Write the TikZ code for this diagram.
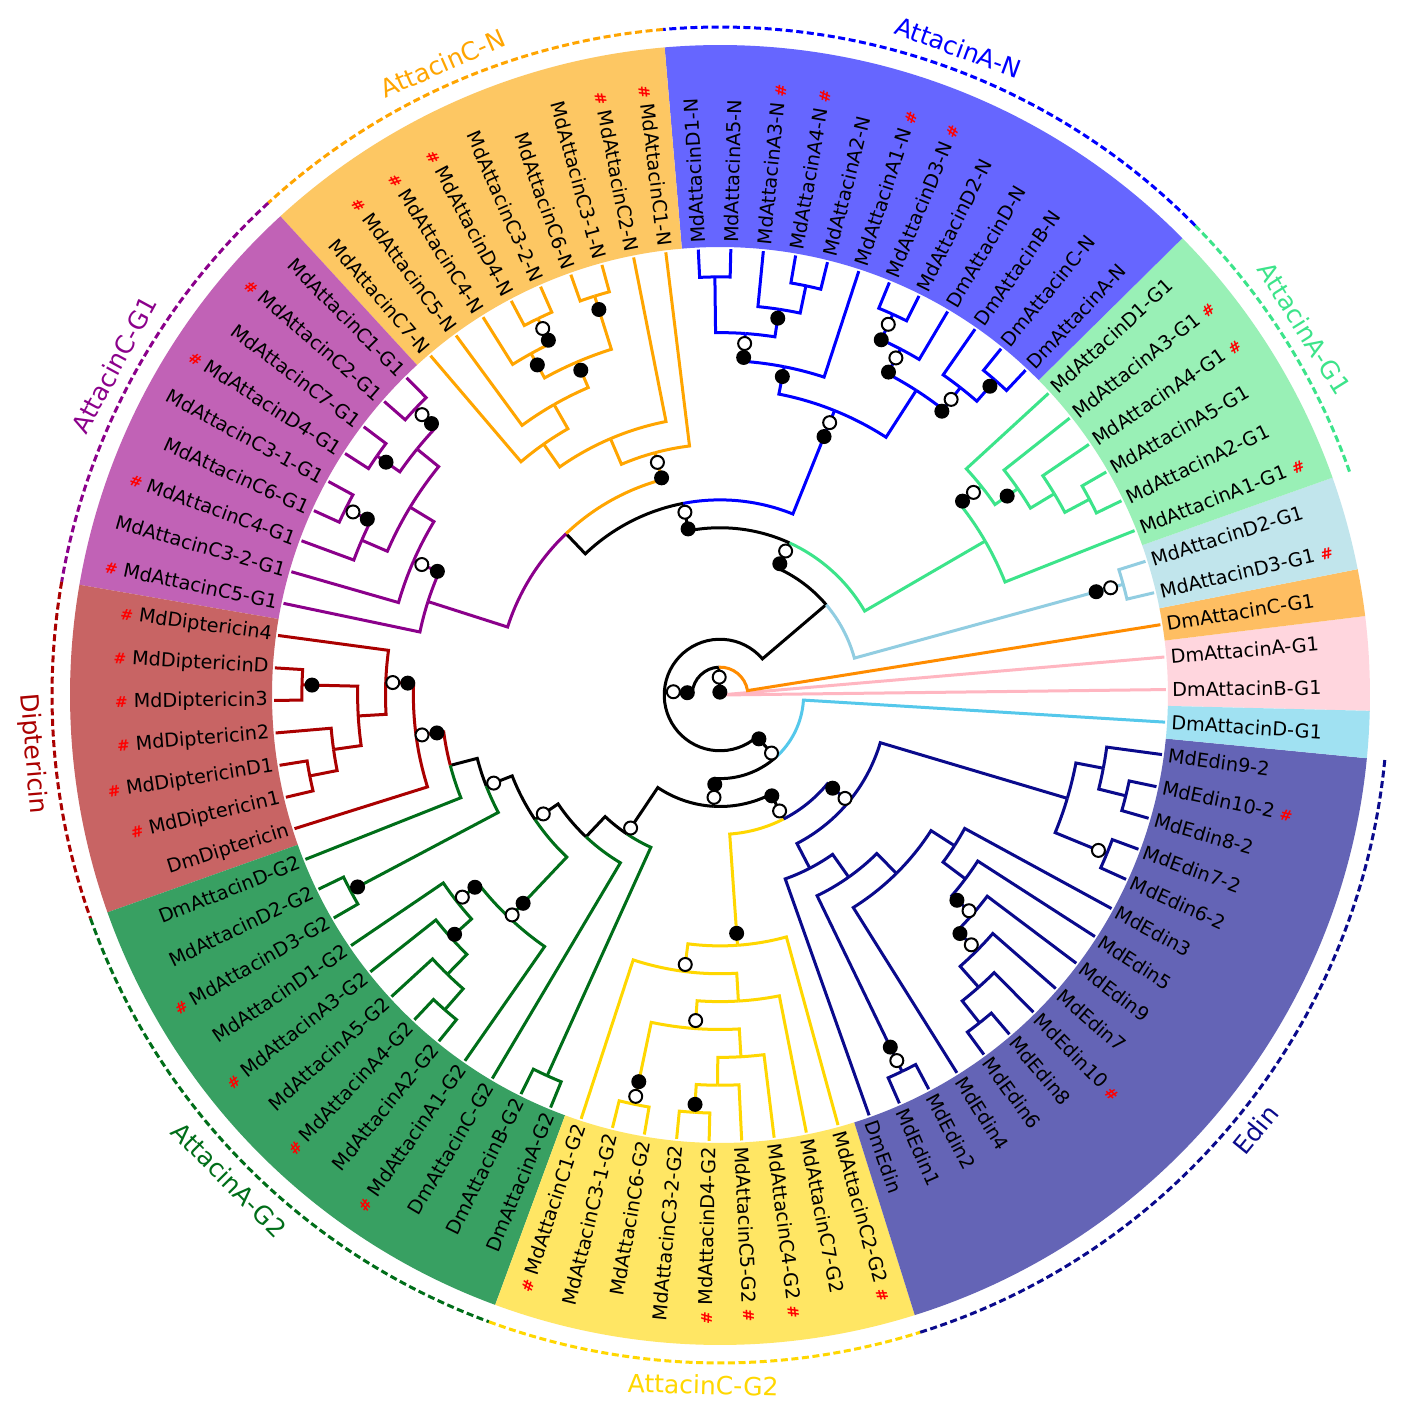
\documentclass[tikz,border=0pt]{standalone}
\usepackage{fontspec}
\setmainfont{DejaVu Sans}
\usetikzlibrary{calc}

\definecolor{bandCN}{RGB}{253,199,99}
\definecolor{bandAN}{RGB}{102,102,255}
\definecolor{bandAG1}{RGB}{153,240,182}
\definecolor{bandLB}{RGB}{193,229,236}
\definecolor{bandDmC}{RGB}{254,190,98}
\definecolor{bandPink}{RGB}{255,214,222}
\definecolor{bandCyan}{RGB}{160,225,242}
\definecolor{bandEdin}{RGB}{100,100,182}
\definecolor{bandY}{RGB}{255,230,100}
\definecolor{bandGtwo}{RGB}{56,160,98}
\definecolor{bandDip}{RGB}{200,100,100}
\definecolor{bandPur}{RGB}{193,98,182}

\definecolor{cOrange}{RGB}{255,165,0}
\definecolor{cBlue}{RGB}{0,0,255}
\definecolor{cGA}{RGB}{60,228,138}
\definecolor{cLB}{RGB}{145,205,225}
\definecolor{cDOrange}{RGB}{255,140,0}
\definecolor{cPink}{RGB}{255,182,193}
\definecolor{cCyan}{RGB}{85,200,235}
\definecolor{cNavy}{RGB}{10,10,140}
\definecolor{cGold}{RGB}{255,215,0}
\definecolor{cDGreen}{RGB}{0,110,25}
\definecolor{cDRed}{RGB}{170,0,0}
\definecolor{cPurple}{RGB}{139,0,139}

% ---------- tree bookkeeping ----------
\newcommand\setnode[3]{%
  \pgfmathsetmacro\tmpang{#3}\expandafter\xdef\csname angX#1\endcsname{\tmpang}%
  \pgfmathsetmacro\tmprad{446-27.875*#2}\expandafter\xdef\csname radX#1\endcsname{\tmprad}}
\newcommand\nang[1]{\csname angX#1\endcsname}
\newcommand\nrad[1]{\csname radX#1\endcsname}

\foreach \k in {0,...,85}{\setnode{k\k}{0}{0.7+4.186*\k}}

\setnode{LB}{1}{(\nang{k3}+\nang{k4})/2}
\setnode{N4}{1}{(\nang{k7}+\nang{k6})/2}
\setnode{N3}{2}{(\nang{k8}+\nang{N4})/2}
\setnode{N2}{3}{(\nang{k9}+\nang{N3})/2}
\setnode{N1}{4}{(\nang{k10}+\nang{N2})/2}
\setnode{G0}{5}{(\nang{N1}+\nang{k5})/2}
\setnode{P1}{1}{(\nang{k21}+\nang{k22})/2}
\setnode{R1}{1}{(\nang{k19}+\nang{k18})/2}
\setnode{P2}{2}{(\nang{k20}+\nang{R1})/2}
\setnode{P3}{3}{(\nang{P1}+\nang{P2})/2}
\setnode{P4}{4}{(\nang{P3}+\nang{k17})/2}
\setnode{R2}{1}{(\nang{k16}+\nang{k15})/2}
\setnode{R3}{2}{(\nang{R2}+\nang{k14})/2}
\setnode{R6}{1}{(\nang{k12}+\nang{k11})/2}
\setnode{R5}{2}{(\nang{k13}+\nang{R6})/2}
\setnode{R7}{3}{(\nang{R3}+\nang{R5})/2}
\setnode{B5}{5}{(\nang{P4}+\nang{R7})/2}
\setnode{Q2}{1}{(\nang{k27}+\nang{k28})/2}
\setnode{Q3}{2}{(\nang{Q2}+\nang{k29})/2}
\setnode{Q1}{1}{(\nang{k25}+\nang{k26})/2}
\setnode{Q4}{3}{(\nang{Q1}+\nang{Q3})/2}
\setnode{O4}{4}{(\nang{Q4}+\nang{k30})/2}
\setnode{O5}{5}{(\nang{O4}+\nang{k31})/2}
\setnode{O6}{6}{(\nang{k24}+\nang{O5})/2}
\setnode{O7}{7}{(\nang{k23}+\nang{O6})/2}
\setnode{S1}{1}{(\nang{k32}+\nang{k33})/2}
\setnode{S2}{1}{(\nang{k34}+\nang{k35})/2}
\setnode{S3}{2}{(\nang{S1}+\nang{S2})/2}
\setnode{S4}{1}{(\nang{k36}+\nang{k37})/2}
\setnode{S5}{2}{(\nang{S4}+\nang{k38})/2}
\setnode{S6}{3}{(\nang{S3}+\nang{S5})/2}
\setnode{S7}{4}{(\nang{S6}+\nang{k39})/2}
\setnode{S8}{5}{(\nang{S7}+\nang{k40})/2}
\setnode{X8}{8}{(\nang{O7}+\nang{S8})/2}
\setnode{X9}{9}{(\nang{X8}+\nang{B5})/2}
\setnode{X10}{10}{(\nang{G0}+\nang{X9})/2}
\setnode{X11}{11}{(\nang{LB}+\nang{X10})/2}
\setnode{D1}{1}{(\nang{k45}+\nang{k46})/2}
\setnode{D2}{2}{(\nang{k44}+\nang{D1})/2}
\setnode{D1b}{1}{(\nang{k42}+\nang{k43})/2}
\setnode{D3}{3}{(\nang{D1b}+\nang{D2})/2}
\setnode{D4}{4}{(\nang{k41}+\nang{D3})/2}
\setnode{Dip5}{5}{(\nang{D4}+\nang{k47})/2}
\setnode{L6}{6}{(\nang{Dip5}+\nang{k48})/2}
\setnode{Gd}{1}{(\nang{k49}+\nang{k50})/2}
\setnode{L7}{7}{(\nang{L6}+\nang{Gd})/2}
\setnode{Gc1}{1}{(\nang{k54}+\nang{k55})/2}
\setnode{Gc2}{2}{(\nang{k53}+\nang{Gc1})/2}
\setnode{Gc3}{3}{(\nang{k52}+\nang{Gc2})/2}
\setnode{Gc4}{4}{(\nang{k51}+\nang{Gc3})/2}
\setnode{Gc5}{5}{(\nang{Gc4}+\nang{k56})/2}
\setnode{L8}{8}{(\nang{L7}+\nang{Gc5})/2}
\setnode{L9}{9}{(\nang{L8}+\nang{k57})/2}
\setnode{Ga}{1}{(\nang{k58}+\nang{k59})/2}
\setnode{LL}{10}{(\nang{L9}+\nang{Ga})/2}
\setnode{Y1}{1}{(\nang{k63}+\nang{k64})/2}
\setnode{Y2}{2}{(\nang{Y1}+\nang{k65})/2}
\setnode{Y3}{3}{(\nang{Y2}+\nang{k66})/2}
\setnode{Y1p}{1}{(\nang{k61}+\nang{k62})/2}
\setnode{Y4}{4}{(\nang{Y1p}+\nang{Y3})/2}
\setnode{Y5}{5}{(\nang{Y4}+\nang{k67})/2}
\setnode{Y6}{6}{(\nang{k60}+\nang{Y5})/2}
\setnode{Y7}{7}{(\nang{Y6}+\nang{k68})/2}
\setnode{H1}{1}{(\nang{k82}+\nang{k83})/2}
\setnode{H2}{2}{(\nang{H1}+\nang{k84})/2}
\setnode{H1b}{1}{(\nang{k80}+\nang{k81})/2}
\setnode{H3}{3}{(\nang{H1b}+\nang{H2})/2}
\setnode{F1}{1}{(\nang{k73}+\nang{k74})/2}
\setnode{F2}{2}{(\nang{F1}+\nang{k75})/2}
\setnode{F3}{3}{(\nang{F2}+\nang{k76})/2}
\setnode{F4}{4}{(\nang{F3}+\nang{k77})/2}
\setnode{F5}{5}{(\nang{F4}+\nang{k78})/2}
\setnode{F6}{6}{(\nang{F5}+\nang{k79})/2}
\setnode{F7}{7}{(\nang{k72}+\nang{F6})/2}
\setnode{A1}{1}{(\nang{k70}+\nang{k71})/2}
\setnode{F8}{8}{(\nang{A1}+\nang{F7})/2}
\setnode{EL}{9}{(\nang{k69}+\nang{F8})/2}
\setnode{Eroot}{10}{(\nang{EL}+\nang{H3})/2}
\setnode{LR}{11}{(\nang{Y7}+\nang{Eroot})/2}
\setnode{L12}{12}{(\nang{LL}+\nang{LR})/2}
\setnode{L13}{13}{(\nang{L12}+\nang{k85})/2}
\setnode{X14}{14}{(\nang{X11}+\nang{L13})/2}
\setnode{X15}{15}{(\nang{k2}+\nang{X14})/2}

\newcommand\bredge[3]{\draw[br,#1] (\nang{#2}:\nrad{#2}) arc[start angle=\nang{#2}, end angle=\nang{#3}, radius=\nrad{#2}] -- (\nang{#3}:\nrad{#3});}
\newcommand\kids[3]{\foreach \cc in {#3}{\bredge{#1}{#2}{\cc}}}
\newcommand\supF[2]{\fill[black] (\nang{#1}:{\nrad{#1}-#2}) circle[radius=7.5];}
\newcommand\supO[2]{\draw[black,line width=1pt,fill=white] (\nang{#1}:{\nrad{#1}-#2}) circle[radius=6.5];}

\newcommand\band[3]{%
  \pgfmathsetmacro\bandS{0.7+4.186*#2-2.093}%
  \pgfmathsetmacro\bandE{0.7+4.186*#3+2.093}%
  \fill[#1] (\bandS:448) arc[start angle=\bandS, end angle=\bandE, radius=448] -- (\bandE:650) arc[start angle=\bandE, end angle=\bandS, radius=650] -- cycle;}

\newcommand\clade[5]{% name, color, k1, k2, text
  \pgfmathsetmacro\cladeS{0.7+4.186*#3-2.093}%
  \pgfmathsetmacro\cladeE{0.7+4.186*#4+2.093}%
  \pgfmathsetmacro\cladeM{(\cladeS+\cladeE)/2}%
  \pgfmathsetmacro\cladeR{ifthenelse(\cladeM<180,\cladeM-90,\cladeM+90)}%
  \draw[#2,line width=1.5pt,dash pattern=on 3.5pt off 1.8pt] (\cladeS:668) arc[start angle=\cladeS, end angle=\cladeE, radius=668];
  \node[text=#2,font=\fontsize{12.5}{14}\selectfont,rotate=\cladeR,inner sep=0pt] (#1) at (\cladeM:690) {#5};}

\newcommand\hsh{{\color{red}\fontsize{7.5}{8}\selectfont\bfseries\#}}
\newif\ifflip
\newcommand\leaf[3]{%
  \pgfmathsetmacro\lfang{0.7+4.186*#1}%
  \flipfalse\ifnum#1>22 \ifnum#1<65 \fliptrue\fi\fi
  \ifflip
    \pgfmathsetmacro\lfrot{\lfang+180}%
    \node[leaflab,anchor=east,rotate=\lfrot] (t#1) at (\lfang:452) {\ifnum#3=1 \hsh\ \fi#2};%
  \else
    \node[leaflab,anchor=west,rotate=\lfang] (t#1) at (\lfang:452) {#2\ifnum#3=1 \ \hsh\fi};%
  \fi}

\begin{document}
\begin{tikzpicture}[x=0.5pt,y=0.5pt,
  br/.style={line width=1.5pt,line join=miter},
  leaflab/.style={inner sep=0pt,font=\fontsize{9.6}{11}\selectfont,text=black}]
\useasboundingbox (-720,-710) rectangle (681,695);
\fill[white] (-720,-710) rectangle (681,695);

% ---------- coloured bands ----------
\band{bandPink}{0}{1}
\band{bandDmC}{2}{2}
\band{bandLB}{3}{4}
\band{bandAG1}{5}{10}
\band{bandAN}{11}{22}
\band{bandCN}{23}{31}
\band{bandPur}{32}{40}
\band{bandDip}{41}{47}
\band{bandGtwo}{48}{59}
\band{bandY}{60}{68}
\band{bandEdin}{69}{84}
\band{bandCyan}{85}{85}

% ---------- clade arcs and names ----------
\clade{cAG1}{cGA}{5}{10}{AttacinA-G1}
\clade{cAN}{cBlue}{11}{22}{AttacinA-N}
\clade{cCN}{cOrange}{23}{31}{AttacinC-N}
\clade{cCG1}{cPurple}{32}{40}{AttacinC-G1}
\clade{cDip}{cDRed}{41}{47}{Diptericin}
\clade{cAG2}{cDGreen}{48}{59}{AttacinA-G2}
\clade{cCG2}{cGold}{60}{68}{AttacinC-G2}
\clade{cEdin}{cNavy}{69}{84}{Edin}

% ---------- branches ----------
\draw[br,cPink] (0,0) -- (\nang{k0}:446);
\draw[br,cPink] (0,0) -- (\nang{k1}:446);
\draw[br,black] (0,0) -- (\nang{X15}:\nrad{X15});
\bredge{cDOrange}{X15}{k2}
\bredge{black}{X15}{X14}
\kids{black}{X14}{X11,L13}
\bredge{cLB}{X11}{LB}
\bredge{black}{X11}{X10}
\kids{cLB}{LB}{k3,k4}
\bredge{cGA}{X10}{G0}
\bredge{black}{X10}{X9}
\kids{cGA}{G0}{N1,k5}
\kids{cGA}{N1}{k10,N2}
\kids{cGA}{N2}{k9,N3}
\kids{cGA}{N3}{k8,N4}
\kids{cGA}{N4}{k7,k6}
\bredge{black}{X9}{X8}
\bredge{cBlue}{X9}{B5}
\kids{cBlue}{B5}{P4,R7}
\kids{cBlue}{P4}{P3,k17}
\kids{cBlue}{P3}{P1,P2}
\kids{cBlue}{P1}{k21,k22}
\kids{cBlue}{P2}{k20,R1}
\kids{cBlue}{R1}{k19,k18}
\kids{cBlue}{R7}{R3,R5}
\kids{cBlue}{R3}{R2,k14}
\kids{cBlue}{R2}{k16,k15}
\kids{cBlue}{R5}{k13,R6}
\kids{cBlue}{R6}{k12,k11}
\bredge{cOrange}{X8}{O7}
\bredge{cPurple}{X8}{S8}
\kids{cOrange}{O7}{k23,O6}
\kids{cOrange}{O6}{k24,O5}
\kids{cOrange}{O5}{O4,k31}
\kids{cOrange}{O4}{Q4,k30}
\kids{cOrange}{Q4}{Q1,Q3}
\kids{cOrange}{Q1}{k25,k26}
\kids{cOrange}{Q3}{Q2,k29}
\kids{cOrange}{Q2}{k27,k28}
\kids{cPurple}{S8}{S7,k40}
\kids{cPurple}{S7}{S6,k39}
\kids{cPurple}{S6}{S3,S5}
\kids{cPurple}{S3}{S1,S2}
\kids{cPurple}{S1}{k32,k33}
\kids{cPurple}{S2}{k34,k35}
\kids{cPurple}{S5}{S4,k38}
\kids{cPurple}{S4}{k36,k37}
\bredge{cCyan}{L13}{k85}
\bredge{black}{L13}{L12}
\kids{black}{L12}{LL,LR}
\bredge{cGold}{LR}{Y7}
\bredge{cNavy}{LR}{Eroot}
\kids{cGold}{Y7}{Y6,k68}
\kids{cGold}{Y6}{k60,Y5}
\kids{cGold}{Y5}{Y4,k67}
\kids{cGold}{Y4}{Y1p,Y3}
\kids{cGold}{Y1p}{k61,k62}
\kids{cGold}{Y3}{Y2,k66}
\kids{cGold}{Y2}{Y1,k65}
\kids{cGold}{Y1}{k63,k64}
\kids{cNavy}{Eroot}{EL,H3}
\kids{cNavy}{H3}{H1b,H2}
\kids{cNavy}{H1b}{k80,k81}
\kids{cNavy}{H2}{H1,k84}
\kids{cNavy}{H1}{k82,k83}
\kids{cNavy}{EL}{k69,F8}
\kids{cNavy}{F8}{A1,F7}
\kids{cNavy}{A1}{k70,k71}
\kids{cNavy}{F7}{k72,F6}
\kids{cNavy}{F6}{F5,k79}
\kids{cNavy}{F5}{F4,k78}
\kids{cNavy}{F4}{F3,k77}
\kids{cNavy}{F3}{F2,k76}
\kids{cNavy}{F2}{F1,k75}
\kids{cNavy}{F1}{k73,k74}
\bredge{black}{LL}{L9}
\bredge{cDGreen}{LL}{Ga}
\kids{cDGreen}{Ga}{k58,k59}
\bredge{black}{L9}{L8}
\bredge{cDGreen}{L9}{k57}
\bredge{black}{L8}{L7}
\bredge{cDGreen}{L8}{Gc5}
\kids{cDGreen}{Gc5}{Gc4,k56}
\kids{cDGreen}{Gc4}{k51,Gc3}
\kids{cDGreen}{Gc3}{k52,Gc2}
\kids{cDGreen}{Gc2}{k53,Gc1}
\kids{cDGreen}{Gc1}{k54,k55}
\bredge{black}{L7}{L6}
\bredge{cDGreen}{L7}{Gd}
\kids{cDGreen}{Gd}{k49,k50}
\bredge{cDRed}{L6}{Dip5}
\bredge{cDGreen}{L6}{k48}
\kids{cDRed}{Dip5}{D4,k47}
\kids{cDRed}{D4}{k41,D3}
\kids{cDRed}{D3}{D1b,D2}
\kids{cDRed}{D1b}{k42,k43}
\kids{cDRed}{D2}{k44,D1}
\kids{cDRed}{D1}{k45,k46}

% ---------- support dots ----------
\supO{X15}{10}\supF{X15}{25}
\supO{X14}{9}\supF{X14}{23}
\supO{X10}{9}\supF{X10}{23}
\supO{X9}{9}\supF{X9}{26}
\supO{O7}{10}\supF{O7}{26}
\supO{B5}{13}\supF{B5}{28}
\supO{LB}{13}\supF{LB}{28}
\supO{N1}{10}\supF{N1}{24}
\supF{N2}{13}
\supO{Q2}{11}\supF{Q2}{24}
\supF{Q3}{13}
\supF{Q4}{9}
\supF{Q1}{14}
\supO{P3}{10}\supF{P3}{24}
\supF{P2}{9}
\supF{P4}{10}
\supO{R2}{11}\supF{R2}{28}
\supO{R3}{10}\supF{R3}{26}
\supO{R5}{15}\supF{R5}{30}
\supF{R6}{8}
\supO{S1}{9}\supF{S1}{22}
\supF{S2}{11}
\supO{S4}{8}\supF{S4}{24}
\supO{S7}{9}\supF{S7}{26}
\supO{L13}{6}\supF{L13}{25}
\supO{L12}{9}\supF{L12}{22}
\supO{LR}{9}\supF{LR}{26}
\supO{Eroot}{5}\supF{Eroot}{21}
\supF{Y7}{12}
\supO{Y6}{7}
\supO{Y4}{8}
\supF{Y1}{8}
\supO{Y1p}{8}\supF{Y1p}{23}
\supO{H1b}{9}
\supO{F4}{5}\supF{F4}{21}
\supO{F3}{8}\supF{F3}{24}
\supO{A1}{12}\supF{A1}{27}
\supO{L7}{8}
\supO{L8}{10}
\supO{LL}{7}
\supO{Dip5}{6}\supF{Dip5}{21}
\supO{D4}{7}\supF{D4}{22}
\supF{D1b}{10}
\supF{Gd}{8}
\supO{Gc4}{7}\supF{Gc4}{23}
\supF{Gc3}{5}
\supO{Gc5}{4}\supF{Gc5}{20}

% ---------- tip labels ----------
\leaf{0}{DmAttacinB-G1}{0}
\leaf{1}{DmAttacinA-G1}{0}
\leaf{2}{DmAttacinC-G1}{0}
\leaf{3}{MdAttacinD3-G1}{1}
\leaf{4}{MdAttacinD2-G1}{0}
\leaf{5}{MdAttacinA1-G1}{1}
\leaf{6}{MdAttacinA2-G1}{0}
\leaf{7}{MdAttacinA5-G1}{0}
\leaf{8}{MdAttacinA4-G1}{1}
\leaf{9}{MdAttacinA3-G1}{1}
\leaf{10}{MdAttacinD1-G1}{0}
\leaf{11}{DmAttacinA-N}{0}
\leaf{12}{DmAttacinC-N}{0}
\leaf{13}{DmAttacinB-N}{0}
\leaf{14}{DmAttacinD-N}{0}
\leaf{15}{MdAttacinD2-N}{0}
\leaf{16}{MdAttacinD3-N}{1}
\leaf{17}{MdAttacinA1-N}{1}
\leaf{18}{MdAttacinA2-N}{0}
\leaf{19}{MdAttacinA4-N}{1}
\leaf{20}{MdAttacinA3-N}{1}
\leaf{21}{MdAttacinA5-N}{0}
\leaf{22}{MdAttacinD1-N}{0}
\leaf{23}{MdAttacinC1-N}{1}
\leaf{24}{MdAttacinC2-N}{1}
\leaf{25}{MdAttacinC3-1-N}{0}
\leaf{26}{MdAttacinC6-N}{0}
\leaf{27}{MdAttacinC3-2-N}{0}
\leaf{28}{MdAttacinD4-N}{1}
\leaf{29}{MdAttacinC4-N}{1}
\leaf{30}{MdAttacinC5-N}{1}
\leaf{31}{MdAttacinC7-N}{0}
\leaf{32}{MdAttacinC1-G1}{0}
\leaf{33}{MdAttacinC2-G1}{1}
\leaf{34}{MdAttacinC7-G1}{0}
\leaf{35}{MdAttacinD4-G1}{1}
\leaf{36}{MdAttacinC3-1-G1}{0}
\leaf{37}{MdAttacinC6-G1}{0}
\leaf{38}{MdAttacinC4-G1}{1}
\leaf{39}{MdAttacinC3-2-G1}{0}
\leaf{40}{MdAttacinC5-G1}{1}
\leaf{41}{MdDiptericin4}{1}
\leaf{42}{MdDiptericinD}{1}
\leaf{43}{MdDiptericin3}{1}
\leaf{44}{MdDiptericin2}{1}
\leaf{45}{MdDiptericinD1}{1}
\leaf{46}{MdDiptericin1}{1}
\leaf{47}{DmDiptericin}{0}
\leaf{48}{DmAttacinD-G2}{0}
\leaf{49}{MdAttacinD2-G2}{0}
\leaf{50}{MdAttacinD3-G2}{1}
\leaf{51}{MdAttacinD1-G2}{0}
\leaf{52}{MdAttacinA3-G2}{1}
\leaf{53}{MdAttacinA5-G2}{0}
\leaf{54}{MdAttacinA4-G2}{1}
\leaf{55}{MdAttacinA2-G2}{0}
\leaf{56}{MdAttacinA1-G2}{1}
\leaf{57}{DmAttacinC-G2}{0}
\leaf{58}{DmAttacinB-G2}{0}
\leaf{59}{DmAttacinA-G2}{0}
\leaf{60}{MdAttacinC1-G2}{1}
\leaf{61}{MdAttacinC3-1-G2}{0}
\leaf{62}{MdAttacinC6-G2}{0}
\leaf{63}{MdAttacinC3-2-G2}{0}
\leaf{64}{MdAttacinD4-G2}{1}
\leaf{65}{MdAttacinC5-G2}{1}
\leaf{66}{MdAttacinC4-G2}{1}
\leaf{67}{MdAttacinC7-G2}{0}
\leaf{68}{MdAttacinC2-G2}{1}
\leaf{69}{DmEdin}{0}
\leaf{70}{MdEdin1}{0}
\leaf{71}{MdEdin2}{0}
\leaf{72}{MdEdin4}{0}
\leaf{73}{MdEdin6}{0}
\leaf{74}{MdEdin8}{0}
\leaf{75}{MdEdin10}{1}
\leaf{76}{MdEdin7}{0}
\leaf{77}{MdEdin9}{0}
\leaf{78}{MdEdin5}{0}
\leaf{79}{MdEdin3}{0}
\leaf{80}{MdEdin6-2}{0}
\leaf{81}{MdEdin7-2}{0}
\leaf{82}{MdEdin8-2}{0}
\leaf{83}{MdEdin10-2}{1}
\leaf{84}{MdEdin9-2}{0}
\leaf{85}{DmAttacinD-G1}{0}
\end{tikzpicture}
\end{document}
